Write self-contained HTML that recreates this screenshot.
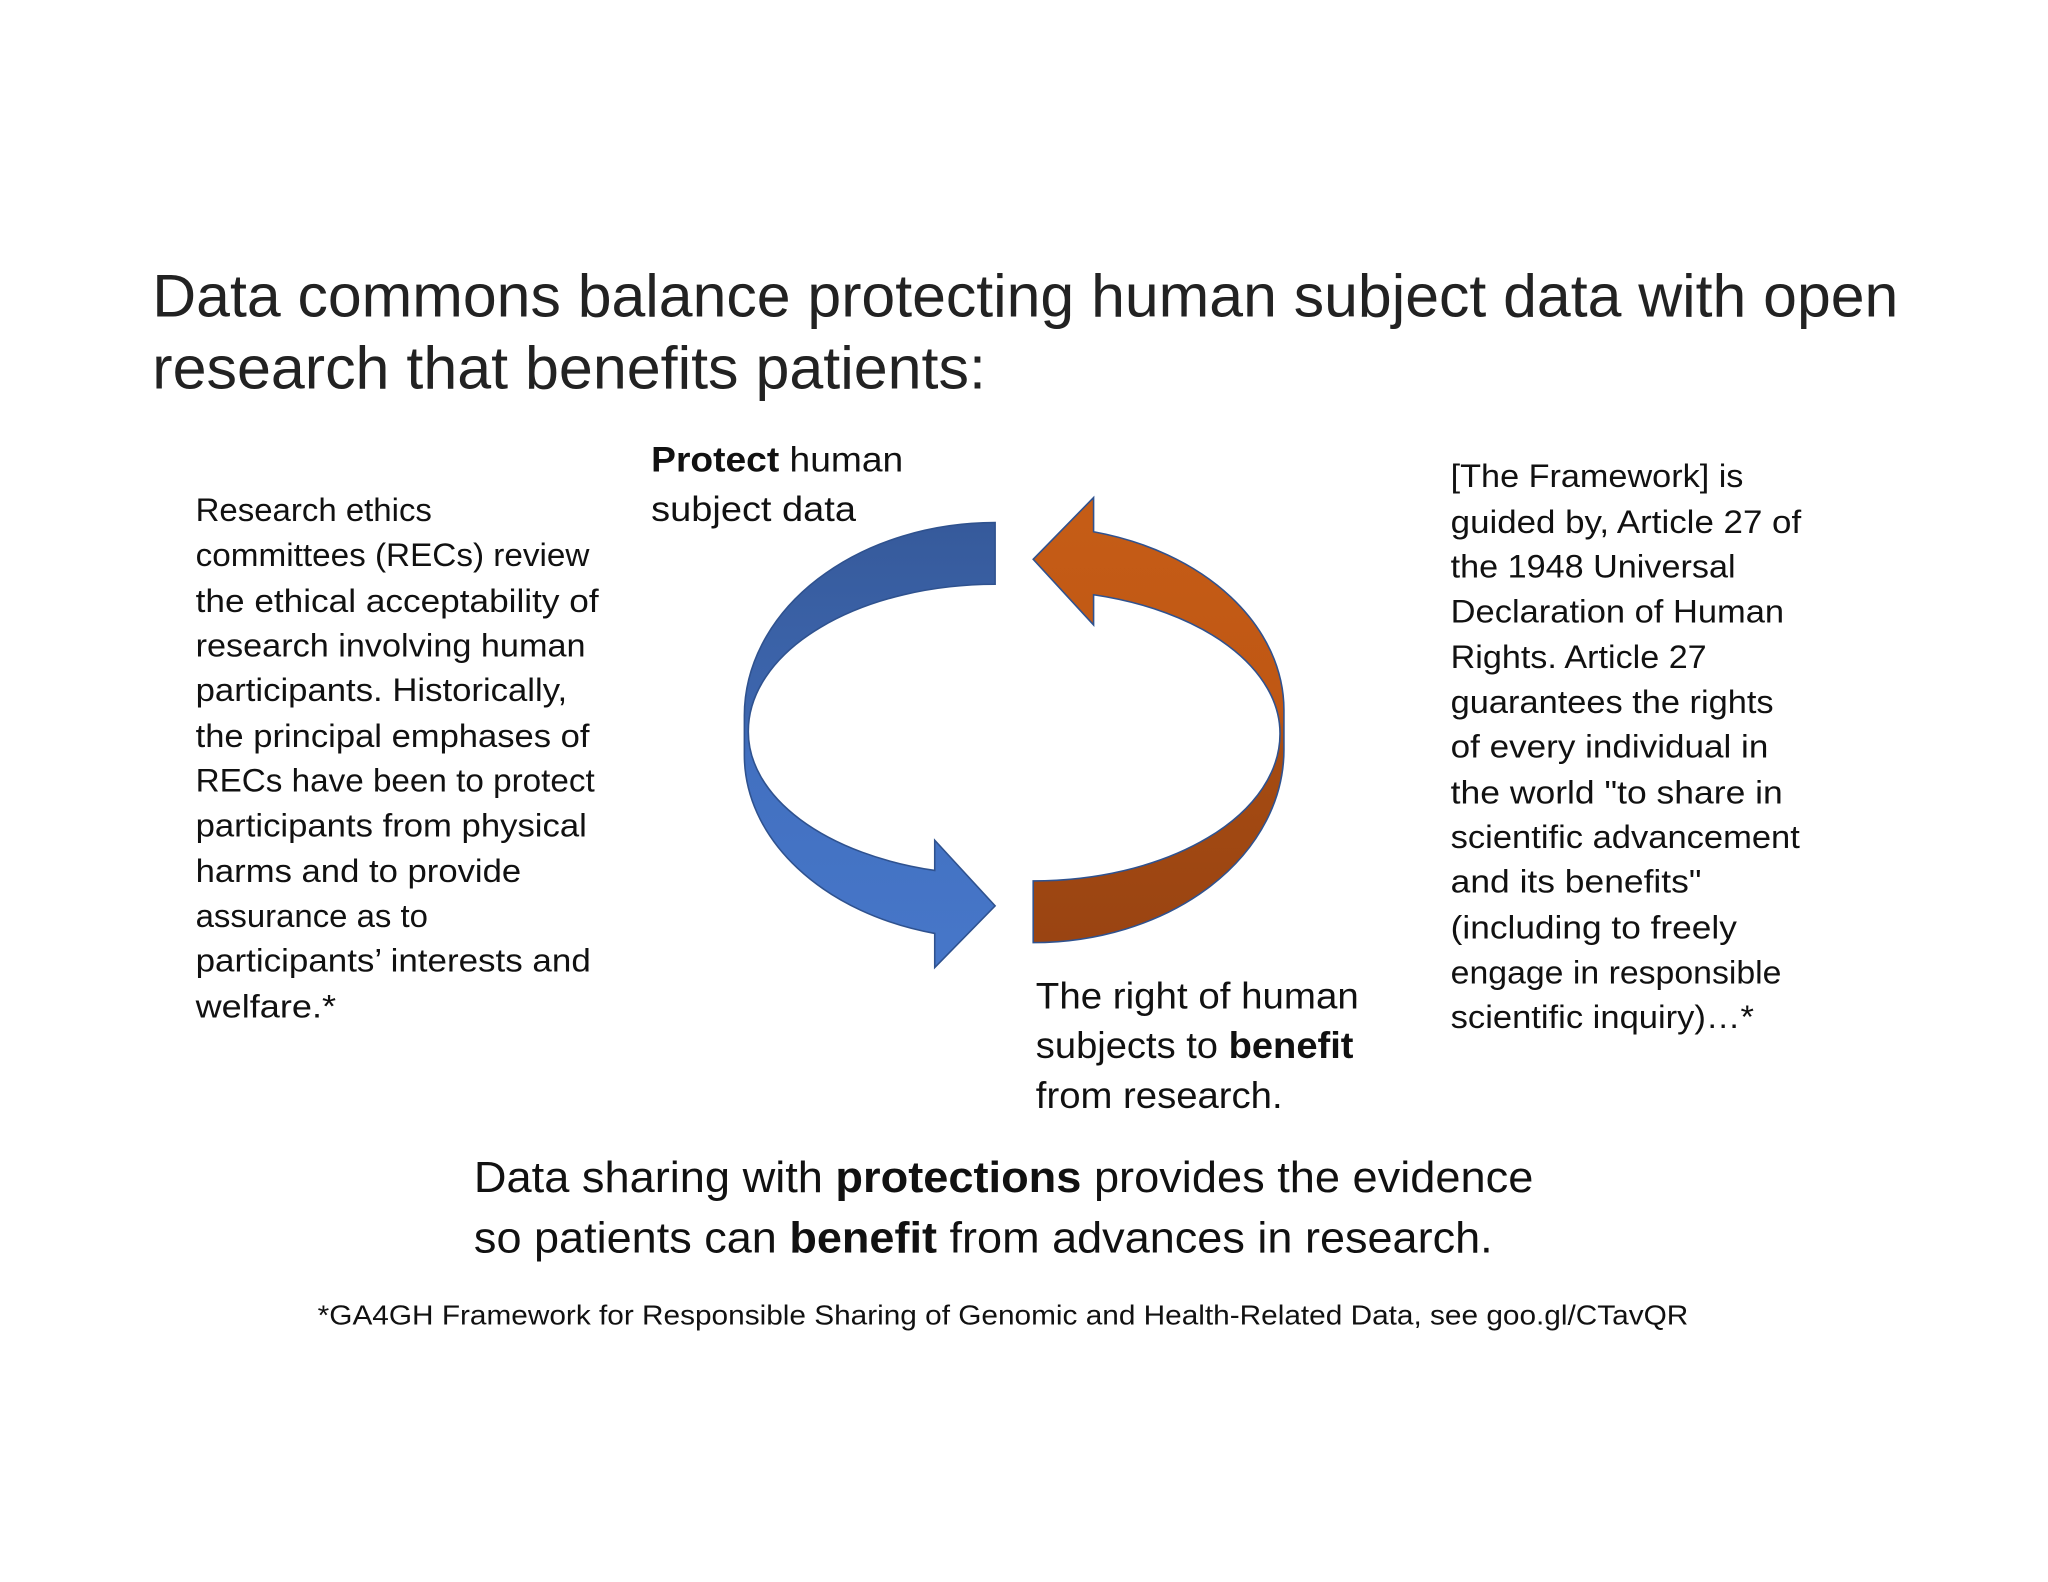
<!DOCTYPE html>
<html><head><meta charset="utf-8"><style>
html,body{margin:0;padding:0;background:#fff;}
svg{display:block;}
text{font-family:"Liberation Sans",sans-serif;fill:#111;}
</style></head><body>
<svg width="2048" height="1582" viewBox="0 0 1560 1205" xmlns="http://www.w3.org/2000/svg">
<defs>
<linearGradient id="gb" gradientUnits="userSpaceOnUse" x1="0" y1="398" x2="0" y2="720">
<stop offset="0" stop-color="#365a9b"/><stop offset="0.45" stop-color="#3d66ae"/><stop offset="0.55" stop-color="#4270c0"/><stop offset="1" stop-color="#4676c8"/>
</linearGradient>
<linearGradient id="go" gradientUnits="userSpaceOnUse" x1="0" y1="398" x2="0" y2="720">
<stop offset="0" stop-color="#9a4412"/><stop offset="0.45" stop-color="#a54b12"/><stop offset="0.55" stop-color="#bf5714"/><stop offset="1" stop-color="#c55c16"/>
</linearGradient>
</defs>
<g stroke="#2f528f" stroke-width="1.2">
<path id="arr" fill="url(#gb)" d="M758 398 A191 147 0 0 0 567 545 L567 575 A191 140 0 0 0 712 711 L712 737 L758 690 L712 640 L712 663 A188 109 0 0 1 570 557 A188 112 0 0 1 758 445 Z"/>
<path fill="url(#go)" stroke="#2f528f" transform="rotate(180 772.5 558)" d="M758 398 A191 147 0 0 0 567 545 L567 575 A191 140 0 0 0 712 711 L712 737 L758 690 L712 640 L712 663 A188 109 0 0 1 570 557 A188 112 0 0 1 758 445 Z"/>
</g>
<g style="fill:#222">
<text x="116" y="241" font-size="46" textLength="1330" lengthAdjust="spacingAndGlyphs" style="fill:#222">Data commons balance protecting human subject data with open</text>
<text x="116" y="296" font-size="46" textLength="635" lengthAdjust="spacingAndGlyphs" style="fill:#222">research that benefits patients:</text>
</g>
<g font-size="25">
<text x="149" y="397" textLength="180" lengthAdjust="spacingAndGlyphs">Research ethics</text>
<text x="149" y="431" textLength="300" lengthAdjust="spacingAndGlyphs">committees (RECs) review</text>
<text x="149" y="466" textLength="307" lengthAdjust="spacingAndGlyphs">the ethical acceptability of</text>
<text x="149" y="500" textLength="297" lengthAdjust="spacingAndGlyphs">research involving human</text>
<text x="149" y="534" textLength="283" lengthAdjust="spacingAndGlyphs">participants. Historically,</text>
<text x="149" y="569" textLength="300" lengthAdjust="spacingAndGlyphs">the principal emphases of</text>
<text x="149" y="603" textLength="304" lengthAdjust="spacingAndGlyphs">RECs have been to protect</text>
<text x="149" y="637" textLength="298" lengthAdjust="spacingAndGlyphs">participants from physical</text>
<text x="149" y="672" textLength="248" lengthAdjust="spacingAndGlyphs">harms and to provide</text>
<text x="149" y="706" textLength="177" lengthAdjust="spacingAndGlyphs">assurance as to</text>
<text x="149" y="740" textLength="301" lengthAdjust="spacingAndGlyphs">participants’ interests and</text>
<text x="149" y="775" textLength="107" lengthAdjust="spacingAndGlyphs">welfare.*</text>
</g>
<g font-size="27">
<text x="496" y="359" textLength="192" lengthAdjust="spacingAndGlyphs"><tspan font-weight="bold">Protect</tspan> human</text>
<text x="496" y="397" textLength="156" lengthAdjust="spacingAndGlyphs">subject data</text>
</g>
<g font-size="25">
<text x="1105" y="371" textLength="223" lengthAdjust="spacingAndGlyphs">[The Framework] is</text>
<text x="1105" y="406" textLength="267" lengthAdjust="spacingAndGlyphs">guided by, Article 27 of</text>
<text x="1105" y="440" textLength="217" lengthAdjust="spacingAndGlyphs">the 1948 Universal</text>
<text x="1105" y="474" textLength="254" lengthAdjust="spacingAndGlyphs">Declaration of Human</text>
<text x="1105" y="509" textLength="195" lengthAdjust="spacingAndGlyphs">Rights. Article 27</text>
<text x="1105" y="543" textLength="246" lengthAdjust="spacingAndGlyphs">guarantees the rights</text>
<text x="1105" y="577" textLength="242" lengthAdjust="spacingAndGlyphs">of every individual in</text>
<text x="1105" y="612" textLength="253" lengthAdjust="spacingAndGlyphs">the world "to share in</text>
<text x="1105" y="646" textLength="266" lengthAdjust="spacingAndGlyphs">scientific advancement</text>
<text x="1105" y="680" textLength="191" lengthAdjust="spacingAndGlyphs">and its benefits"</text>
<text x="1105" y="715" textLength="218" lengthAdjust="spacingAndGlyphs">(including to freely</text>
<text x="1105" y="749" textLength="252" lengthAdjust="spacingAndGlyphs">engage in responsible</text>
<text x="1105" y="783" textLength="231" lengthAdjust="spacingAndGlyphs">scientific inquiry)…*</text>
</g>
<g font-size="28">
<text x="789" y="768" textLength="246" lengthAdjust="spacingAndGlyphs">The right of human</text>
<text x="789" y="806" textLength="242" lengthAdjust="spacingAndGlyphs">subjects to <tspan font-weight="bold">benefit</tspan></text>
<text x="789" y="844" textLength="188" lengthAdjust="spacingAndGlyphs">from research.</text>
</g>
<g font-size="33">
<text x="361" y="908" textLength="807" lengthAdjust="spacingAndGlyphs">Data sharing with <tspan font-weight="bold">protections</tspan> provides the evidence</text>
<text x="361" y="954" textLength="776" lengthAdjust="spacingAndGlyphs">so patients can <tspan font-weight="bold">benefit</tspan> from advances in research.</text>
</g>
<text x="242" y="1009" font-size="21" textLength="1044" lengthAdjust="spacingAndGlyphs">*GA4GH Framework for Responsible Sharing of Genomic and Health-Related Data, see goo.gl/CTavQR</text>
</svg>
</body></html>
